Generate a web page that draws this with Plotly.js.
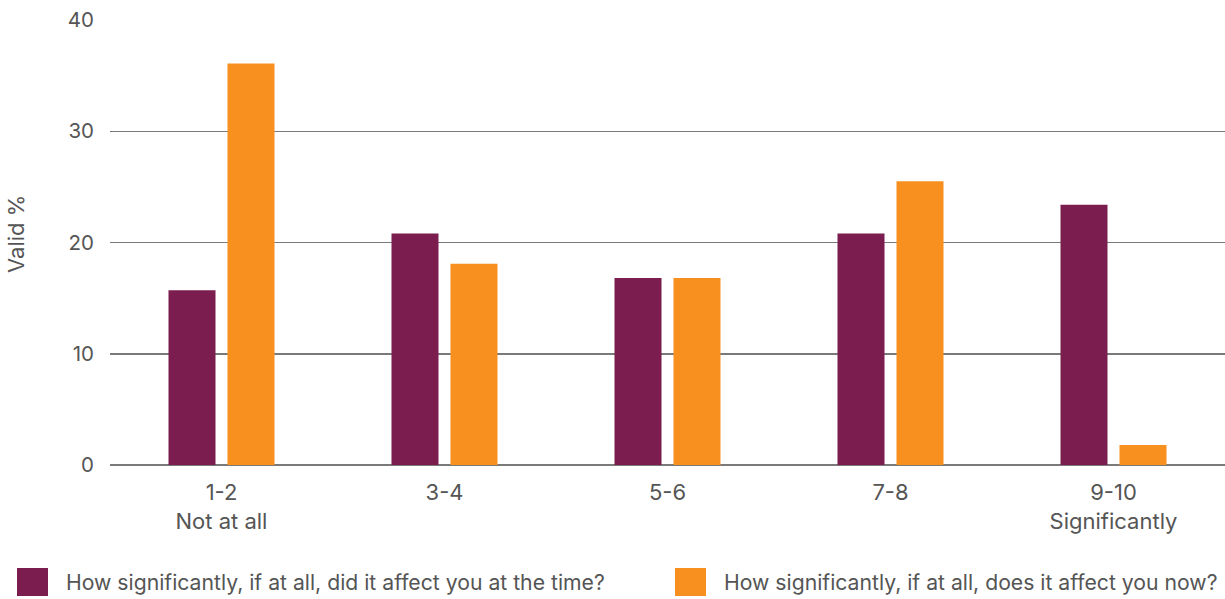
<!DOCTYPE html>
<html>
<head>
<meta charset="utf-8">
<script src="https://cdn.plot.ly/plotly-3.0.1.min.js"></script>
<style>html,body{margin:0;padding:0;background:#fff}#chart{width:1225px;height:599px}</style>
</head>
<body>
<div id="chart"></div>
<script>
const categories = ["1-2<br>Not at all", "3-4", "5-6", "7-8", "9-10<br>Significantly"];
const seriesNames = ["How significantly, if at all, did it affect you at the time?", "How significantly, if at all, does it affect you now?"];
const atTheTime = [15.7, 20.8, 16.8, 20.8, 23.4];
const now = [36.1, 18.1, 16.8, 25.5, 1.8];
const yTicks = [0, 10, 20, 30, 40];
const yTitle = "Valid %";

const colors = ["#7B1E4F", "#F7901E"];
const textColor = "#555555";
const family = "Inter, Liberation Sans, Arial, sans-serif";
const font = {family: family, size: 20.5, color: textColor};
const xFont = {family: family, size: 22, color: textColor};
const legendFont = {family: family, size: 21.2, color: textColor};
const titleFont = {family: family, size: 22, color: textColor};

const W = 1225, H = 599;
const M = {l: 110, r: 0, t: 20, b: 134};
const pw = W - M.l - M.r, ph = H - M.t - M.b;
const px = x => (x - M.l) / pw;
const py = y => (H - M.b - y) / ph;

const traces = [
  {type: "bar", x: categories, y: atTheTime, name: seriesNames[0], marker: {color: colors[0]}, hoverinfo: "y"},
  {type: "bar", x: categories, y: now, name: seriesNames[1], marker: {color: colors[1]}, hoverinfo: "y"}
];

// custom legend with larger square swatches
const legendX = [17, 675];
const shapes = [];
const annotations = [];
seriesNames.forEach((n, i) => {
  shapes.push({type: "rect", xref: "paper", yref: "paper",
    x0: px(legendX[i]), x1: px(legendX[i] + 31),
    y0: py(596), y1: py(568),
    fillcolor: colors[i], line: {width: 0}});
  annotations.push({xref: "paper", yref: "paper", x: px(legendX[i] + 47), y: py(582),
    xanchor: "left", yanchor: "middle", showarrow: false, text: n, font: legendFont});
});
annotations.push({xref: "paper", yref: "paper", x: px(16), y: py(234), xanchor: "center", yanchor: "middle",
  textangle: -90, showarrow: false, text: yTitle, font: titleFont});

const layout = {
  width: W, height: H,
  margin: M,
  paper_bgcolor: "#ffffff", plot_bgcolor: "#ffffff",
  font: font,
  barmode: "group", bargap: 0.471, bargroupgap: 0.203,
  showlegend: false,
  xaxis: {showgrid: false, showline: false, zeroline: false, ticks: "", tickfont: xFont, automargin: false, ticklabelstandoff: 12},
  yaxis: {range: [0, 40], tickvals: yTicks, ticktext: yTicks.map(String), showgrid: true, gridcolor: "#7a7a7a", gridwidth: 1.5,
    zeroline: true, zerolinecolor: "#7a7a7a", zerolinewidth: 1.5, showline: false, ticks: "", tickfont: font,
    ticklabelstandoff: 15, automargin: false},
  shapes: shapes,
  annotations: annotations
};

Plotly.newPlot("chart", traces, layout, {displayModeBar: false, staticPlot: true});
</script>
</body>
</html>
